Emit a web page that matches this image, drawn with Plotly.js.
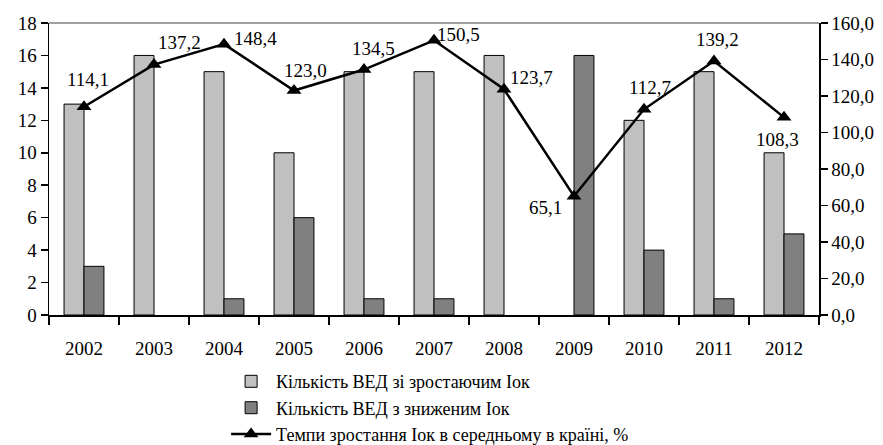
<!DOCTYPE html>
<html>
<head>
<meta charset="utf-8">
<script src="https://cdn.plot.ly/plotly-3.0.1.min.js"></script>
<style>html,body{margin:0;padding:0;background:#fff;}#chart{width:883px;height:445px;}</style>
</head>
<body>
<div id="chart"></div>
<script>
// Data
const years = [2002, 2003, 2004, 2005, 2006, 2007, 2008, 2009, 2010, 2011, 2012];
const growingCount = [13, 16, 15, 10, 15, 15, 16, 0, 12, 15, 10];
const decliningCount = [3, 0, 1, 6, 1, 1, 0, 16, 4, 1, 5];
const growthRate = [114.1, 137.2, 148.4, 123.0, 134.5, 150.5, 123.7, 65.1, 112.7, 139.2, 108.3];
const seriesNames = ['Кількість ВЕД зі зростаючим Іок', 'Кількість ВЕД з зниженим Іок', 'Темпи зростання Іок в середньому в країні, %'];
const rightTicks = [0, 20, 40, 60, 80, 100, 120, 140, 160];

// label offsets (style)
const labelDX = [4, 25, 31, 11, 9, 24, 27, -29, 6, 3, -7];
const labelDY = [-27, -22, -6, -20, -21, -6, -12, 11, -22, -21, 22];

const FONT = 'Liberation Serif, DejaVu Serif, serif';
const fmt = v => v.toFixed(1).replace('.', ',');
const hideZero = arr => arr.map(v => v === 0 ? null : v);
const boundaries = years.map(y => y - 0.5).concat([years[years.length-1] + 0.5]);

const traces = [
  {type:'bar', name: seriesNames[0], x: years, y: hideZero(growingCount),
   marker:{color:'#C0C0C0', line:{color:'#000', width:1}}, yaxis:'y'},
  {type:'bar', name: seriesNames[1], x: years, y: hideZero(decliningCount),
   marker:{color:'#808080', line:{color:'#000', width:1}}, yaxis:'y'},
  {type:'scatter', mode:'lines+markers', name: seriesNames[2], x: years, y: growthRate,
   line:{color:'#000', width:2.5}, marker:{symbol:'triangle-up', size:13, color:'#000'}, yaxis:'y2'}
];

const annotations = growthRate.map((v,i)=>({
  x: years[i], y: v, xref:'x', yref:'y2',
  text: fmt(v), showarrow:false,
  xshift: labelDX[i], yshift: -labelDY[i],
  font:{family:FONT, size:19, color:'#000'}
}));

const layout = {
  width: 883, height: 445,
  margin:{l:49, r:64, t:23, b:130, autoexpand:false},
  paper_bgcolor:'#fff', plot_bgcolor:'#fff',
  font:{family:FONT, size:19, color:'#000'},
  barmode:'group', bargap:0.43, bargroupgap:0,
  xaxis:{type:'linear', range:[years[0]-0.5, years[years.length-1]+0.5],
    tickmode:'array', tickvals: years, ticktext: years.map(String),
    showline:true, linecolor:'#000', linewidth:1.5,
    ticks:'', ticklabelstandoff:16,
    minor:{tickmode:'array', tickvals: boundaries, ticks:'outside', ticklen:8, tickcolor:'#000', tickwidth:1.5, showgrid:false},
    showgrid:false, zeroline:false, tickangle:0,
    tickfont:{family:FONT, size:19, color:'#000'}},
  yaxis:{range:[0,18], dtick:2, showline:true, linecolor:'#000', linewidth:1.5,
    ticks:'outside', ticklen:7, tickcolor:'#000', tickwidth:1.5, showgrid:false, zeroline:false,
    tickfont:{family:FONT, size:19, color:'#000'}},
  yaxis2:{range:[0,160], tickmode:'array', tickvals: rightTicks, ticktext: rightTicks.map(fmt),
    overlaying:'y', side:'right',
    showline:true, linecolor:'#000', linewidth:1.5,
    ticks:'outside', ticklen:7, tickcolor:'#000', tickwidth:1.5, showgrid:false, zeroline:false,
    tickfont:{family:FONT, size:19, color:'#000'}},
  showlegend:true,
  legend:{x:0.23, y:-0.473, xanchor:'left', yanchor:'bottom', orientation:'v',
    font:{family:FONT, size:18, color:'#000'}, itemwidth:40, tracegroupgap:0,
    bgcolor:'rgba(0,0,0,0)', traceorder:'normal'},
  shapes:[{type:'line', xref:'paper', yref:'paper', x0:0, x1:1, y0:1, y1:1,
    line:{color:'#808080', width:1.5}}],
  annotations: annotations
};

Plotly.newPlot('chart', traces, layout, {displayModeBar:false, staticPlot:true});
</script>
</body>
</html>
